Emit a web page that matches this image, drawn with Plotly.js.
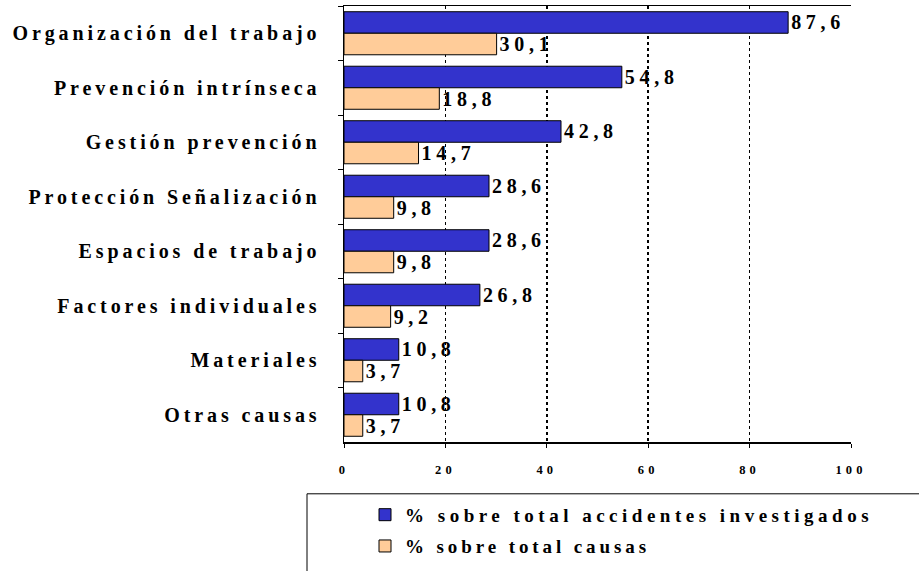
<!DOCTYPE html>
<html><head><meta charset="utf-8">
<script src="https://cdn.plot.ly/plotly-3.0.1.min.js"></script>
<style>
body{margin:0;background:#fff}
text{letter-spacing:3.9px}
.xtick text{letter-spacing:4.1px}
.bartext{letter-spacing:4.7px}
.legendtext{letter-spacing:4.5px}
</style></head>
<body><div id="chart" style="width:919px;height:571px"></div>
<script>
const categories = ["Organización del trabajo","Prevención intrínseca","Gestión prevención","Protección Señalización","Espacios de trabajo","Factores individuales","Materiales","Otras causas"];
const accidentes = [87.6,54.8,42.8,28.6,28.6,26.8,10.8,10.8];
const causas = [30.1,18.8,14.7,9.8,9.8,9.2,3.7,3.7];
const seriesNames = ["% sobre total accidentes investigados","% sobre total causas"];
const xTicks = [0,20,40,60,80,100];

const FAM = 'Liberation Serif';
const f = (size)=>({family:FAM, size:size, color:'#000', weight:700});
const mk = (x,name,color,leg)=>({
  type:'bar', orientation:'h', y:categories, x:x, name:name, legend:leg,
  marker:{color:color, line:{color:'#000', width:1}},
  texttemplate:'%{x:.1f}', textposition:'outside', cliponaxis:false, constraintext:'none',
  textfont:f(20),
  hoverinfo:'skip'
});
const data = [mk(accidentes, seriesNames[0], '#3333CC', 'legend'), mk(causas, seriesNames[1], '#FFCC99', 'legend2')];

const legBase = {x:(365-344)/507, xanchor:'left', yanchor:'middle', bgcolor:'rgba(0,0,0,0)', borderwidth:0, font:f(19)};
const layout = {
  width:919, height:571,
  margin:{l:344, r:68, t:6, b:119},
  paper_bgcolor:'#fff', plot_bgcolor:'#fff',
  separators:', ',
  barmode:'group', bargap:0.21, bargroupgap:0,
  font:f(20),
  showlegend:true,
  legend:Object.assign({}, legBase, {y:(452-526.5)/446}),
  legend2:Object.assign({}, legBase, {y:(452-558.5)/446}),
  xaxis:{range:[0,100], tickvals:xTicks, ticktext:xTicks.map(String), showgrid:true, gridcolor:'#000', griddash:'dot', gridwidth:1.5,
    showline:true, linecolor:'#000', linewidth:1.5, mirror:true, ticks:'outside', ticklen:4, tickcolor:'#000',
    ticklabelstandoff:11, zeroline:false, fixedrange:true,
    tickfont:f(12.5)},
  yaxis:{type:'category', autorange:'reversed', showline:true, linecolor:'#000', linewidth:1.5,
    ticks:'outside', ticklen:5, tickson:'boundaries', tickcolor:'#000', showgrid:false,
    ticklabelstandoff:18,
    tickfont:f(20)},
  shapes:[{type:'rect', xref:'paper', yref:'paper', x0:(307-344)/507, x1:(930-344)/507, y0:(452-505)/446, y1:(452-590)/446,
    line:{color:'#000', width:1}, fillcolor:'rgba(0,0,0,0)'}]
};
const cfg = {displayModeBar:false, staticPlot:true};
Plotly.newPlot('chart', data, layout, cfg);
if (document.fonts && document.fonts.load) {
  document.fonts.load('700 20px "Liberation Serif"').then(()=>Plotly.newPlot('chart', data, layout, cfg));
}
</script></body></html>
